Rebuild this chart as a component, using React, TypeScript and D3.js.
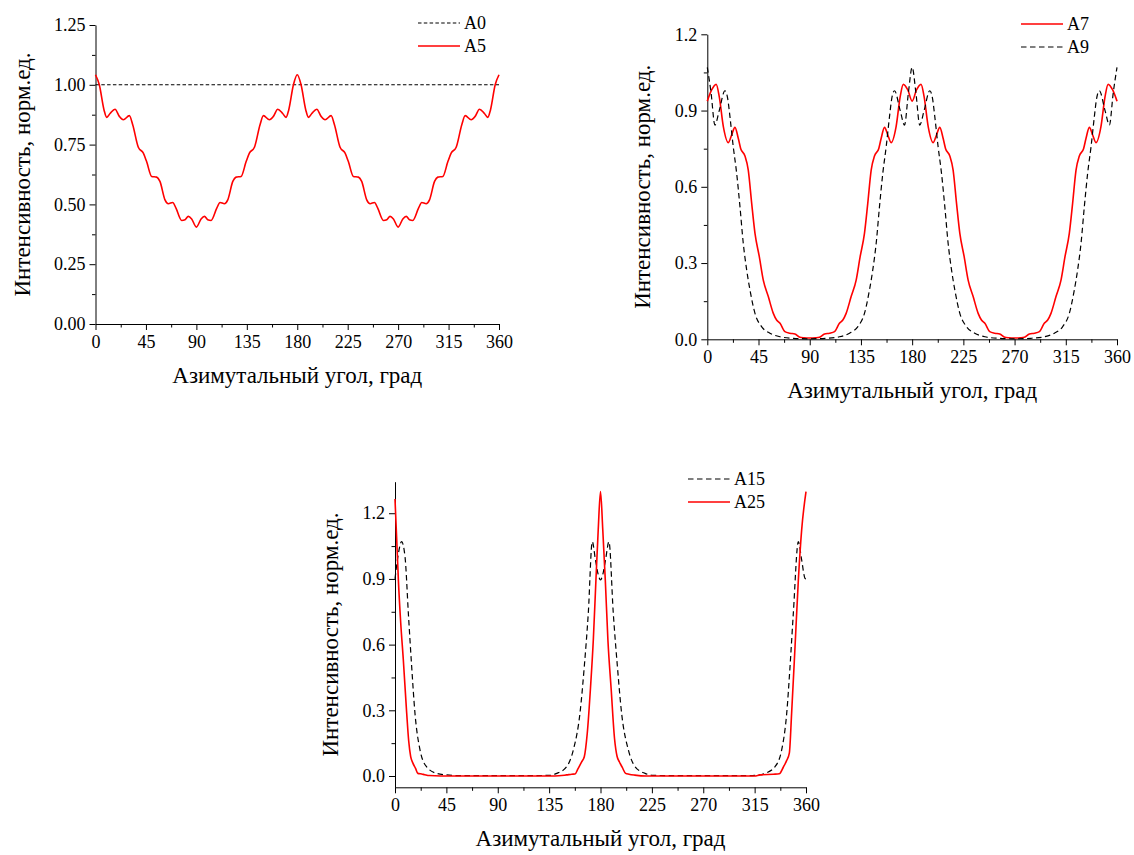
import React, { useEffect, useRef } from 'react';
import * as d3 from 'd3';

type Pt = [number, number];

const xTicks = [0, 45, 90, 135, 180, 225, 270, 315, 360];
const xTitle = 'Азимутальный угол, град';
const yTitle = 'Интенсивность, норм.ед.';

// panel 1
const a0: Pt[] = [[0, 1], [360, 1]];
const a5: Pt[] = [
  [0, 1.042], [3.4, 1.0], [7.6, 0.895], [10, 0.864], [13, 0.88], [17.4, 0.898], [21.3, 0.868], [24.8, 0.854],
  [30.2, 0.871], [33.2, 0.833], [38.2, 0.739], [42.7, 0.714], [45.6, 0.679], [50.1, 0.617], [54.6, 0.614],
  [57.5, 0.596], [62, 0.519], [65, 0.503], [68.9, 0.508], [71.8, 0.484], [76.9, 0.433], [79.9, 0.436],
  [82.8, 0.45], [85.8, 0.439], [90, 0.405], [94.2, 0.439], [97.2, 0.45], [100.1, 0.436], [103.1, 0.433],
  [108.2, 0.484], [111.1, 0.508], [115, 0.503], [118, 0.519], [122.5, 0.596], [125.4, 0.614], [129.9, 0.617],
  [134.4, 0.679], [137.3, 0.714], [141.8, 0.739], [146.8, 0.833], [149.8, 0.871], [155.2, 0.854],
  [158.7, 0.868], [162.6, 0.898], [167, 0.88], [170, 0.864], [172.4, 0.895], [176.6, 1.0], [180, 1.042],
  [183.4, 1.0], [187.6, 0.895], [190, 0.864], [193, 0.88], [197.4, 0.898], [201.3, 0.868], [204.8, 0.854],
  [210.2, 0.871], [213.2, 0.833], [218.2, 0.739], [222.7, 0.714], [225.6, 0.679], [230.1, 0.617],
  [234.6, 0.614], [237.5, 0.596], [242, 0.519], [245, 0.503], [248.9, 0.508], [251.8, 0.484], [256.9, 0.433],
  [259.9, 0.436], [262.8, 0.45], [265.8, 0.439], [270, 0.405], [274.2, 0.439], [277.2, 0.45], [280.1, 0.436],
  [283.1, 0.433], [288.2, 0.484], [291.1, 0.508], [295, 0.503], [298, 0.519], [302.5, 0.596], [305.4, 0.614],
  [309.9, 0.617], [314.4, 0.679], [317.3, 0.714], [321.8, 0.739], [326.8, 0.833], [329.8, 0.871],
  [335.2, 0.854], [338.7, 0.868], [342.6, 0.898], [347, 0.88], [350, 0.864], [352.4, 0.895], [356.6, 1.0],
  [360, 1.042],
];

// panel 2
const a7: Pt[] = [
  [0, 0.937], [3.8, 0.981], [7.8, 1.003], [10.5, 0.955], [14.1, 0.837], [18.5, 0.774], [21.4, 0.804],
  [24.3, 0.834], [27.2, 0.791], [29.3, 0.751], [33.1, 0.721], [36, 0.666], [39, 0.535], [41.9, 0.417],
  [45.7, 0.325], [49.2, 0.233], [53.6, 0.168], [58, 0.102], [60.9, 0.076], [63.9, 0.063], [68.2, 0.03],
  [72.6, 0.024], [77, 0.021], [81.4, 0.008], [85, 0.006], [90, 0.005], [95, 0.006], [98.6, 0.008],
  [103, 0.021], [107.4, 0.024], [111.8, 0.03], [116.1, 0.063], [119.1, 0.076], [122, 0.102], [126.4, 0.168],
  [130.8, 0.233], [134.3, 0.325], [138.1, 0.417], [141, 0.535], [144, 0.666], [146.9, 0.721], [150.7, 0.751],
  [152.8, 0.791], [155.7, 0.834], [158.6, 0.804], [161.5, 0.774], [165.9, 0.837], [169.5, 0.955],
  [172.2, 1.003], [176.2, 0.981], [180, 0.937], [183.8, 0.981], [187.8, 1.003], [190.5, 0.955], [194.1, 0.837],
  [198.5, 0.774], [201.4, 0.804], [204.3, 0.834], [207.2, 0.791], [209.3, 0.751], [213.1, 0.721], [216, 0.666],
  [219, 0.535], [221.9, 0.417], [225.7, 0.325], [229.2, 0.233], [233.6, 0.168], [238, 0.102], [240.9, 0.076],
  [243.9, 0.063], [248.2, 0.03], [252.6, 0.024], [257, 0.021], [261.4, 0.008], [265, 0.006], [270, 0.005],
  [275, 0.006], [278.6, 0.008], [283, 0.021], [287.4, 0.024], [291.8, 0.03], [296.1, 0.063], [299.1, 0.076],
  [302, 0.102], [306.4, 0.168], [310.8, 0.233], [314.3, 0.325], [318.1, 0.417], [321, 0.535], [324, 0.666],
  [326.9, 0.721], [330.7, 0.751], [332.8, 0.791], [335.7, 0.834], [338.6, 0.804], [341.5, 0.774],
  [345.9, 0.837], [349.5, 0.955], [352.2, 1.003], [356.2, 0.981], [360, 0.937],
];
const a9: Pt[] = [
  [0, 1.07], [3.3, 0.97], [6.7, 0.843], [10.5, 0.9], [15.5, 0.978], [18, 0.945], [19.9, 0.876], [22.8, 0.758],
  [25.8, 0.653], [28.7, 0.522], [31.6, 0.378], [34.6, 0.273], [37.5, 0.194], [41.9, 0.102], [47.7, 0.05],
  [55, 0.024], [63.9, 0.01], [75.6, 0.004], [90, 0.002], [104.4, 0.004], [116.1, 0.01], [125, 0.024],
  [132.3, 0.05], [138.1, 0.102], [142.5, 0.194], [145.4, 0.273], [148.4, 0.378], [151.3, 0.522],
  [154.2, 0.653], [157.2, 0.758], [160.1, 0.876], [162, 0.945], [164.5, 0.978], [169.5, 0.9], [173.3, 0.843],
  [176.7, 0.97], [180, 1.07], [183.3, 0.97], [186.7, 0.843], [190.5, 0.9], [195.5, 0.978], [198, 0.945],
  [199.9, 0.876], [202.8, 0.758], [205.8, 0.653], [208.7, 0.522], [211.6, 0.378], [214.6, 0.273],
  [217.5, 0.194], [221.9, 0.102], [227.7, 0.05], [235, 0.024], [243.9, 0.01], [255.6, 0.004], [270, 0.002],
  [284.4, 0.004], [296.1, 0.01], [305, 0.024], [312.3, 0.05], [318.1, 0.102], [322.5, 0.194], [325.4, 0.273],
  [328.4, 0.378], [331.3, 0.522], [334.2, 0.653], [337.2, 0.758], [340.1, 0.876], [342, 0.945],
  [344.5, 0.978], [349.5, 0.9], [353.3, 0.843], [356.7, 0.97], [360, 1.07],
];

// panel 3
const a15: Pt[] = [
  [0, 0.9], [2.5, 1.0], [5.8, 1.07], [8.8, 1.0], [11.7, 0.743], [14.6, 0.5], [17.5, 0.286], [21.9, 0.119],
  [27.7, 0.042], [36.5, 0.012], [45.2, 0.005], [55, 0.002], [120, 0.002], [136, 0.003], [141.7, 0.012],
  [150.4, 0.043], [156.2, 0.119], [162, 0.286], [165.8, 0.5], [169.3, 0.743], [172.8, 1.07], [175.5, 0.99],
  [178, 0.92], [180, 0.895], [182, 0.92], [184.5, 0.99], [187.4, 1.07], [191.2, 0.743], [194.8, 0.5],
  [198.5, 0.286], [204.4, 0.119], [210.2, 0.043], [219, 0.012], [226, 0.003], [240, 0.002], [310, 0.002],
  [315.3, 0.003], [324.1, 0.012], [332.8, 0.042], [338.7, 0.119], [343.1, 0.286], [346, 0.499],
  [348.9, 0.743], [353.3, 1.07], [356.2, 0.987], [359.1, 0.903], [360, 0.9],
];
const a25: Pt[] = [
  [0, 1.265], [1.5, 1.08], [3, 0.89], [5, 0.7], [7.3, 0.53], [10.2, 0.29], [12, 0.16], [13.7, 0.09],
  [15.6, 0.06], [18, 0.035], [20, 0.012], [23.4, 0.009], [26, 0.006], [30, 0.002], [40, 0], [140, 0],
  [150.4, 0.005], [154.8, 0.008], [157.7, 0.009], [160, 0.03], [163.5, 0.065], [165.8, 0.088], [168.4, 0.195],
  [171.3, 0.408], [173.7, 0.621], [176, 0.895], [178, 1.124], [180, 1.299], [182, 1.124], [184.2, 0.895],
  [186.5, 0.62], [189.3, 0.4], [192.3, 0.17], [194.5, 0.09], [196.5, 0.065], [199, 0.04], [202, 0.012],
  [205, 0.008], [210, 0.004], [220, 0], [315, 0], [319.7, 0.005], [331.4, 0.008], [336.6, 0.01],
  [340.1, 0.04], [343, 0.07], [345.4, 0.104], [347.4, 0.286], [350.4, 0.591], [353.3, 0.895],
  [356.2, 1.124], [360, 1.299],
];

const RED = '#ff0000';
const FONT = "'Liberation Serif', 'Times New Roman', serif";

const panels = [
  {
    left: 95.5, right: 499, top: 25, bottom: 324,
    yDomain: [0, 1.25], yMajor: [0, 0.25, 0.5, 0.75, 1, 1.25], yStep: 0.125, yFmt: '.2f',
    yTitleX: 30, legX: 418, legY: 23,
    series: [
      { name: 'A0', data: a0, color: '#000', dash: '3.5,2.3', w: 1.1 },
      { name: 'A5', data: a5, color: RED, dash: null, w: 1.6 },
    ],
  },
  {
    left: 707.3, right: 1117, top: 34.3, bottom: 339.3,
    yDomain: [0, 1.2], yMajor: [0, 0.3, 0.6, 0.9, 1.2], yStep: 0.15, yFmt: '.1f',
    yTitleX: 650, legX: 1021, legY: 24,
    series: [
      { name: 'A7', data: a7, color: RED, dash: null, w: 1.6 },
      { name: 'A9', data: a9, color: '#000', dash: '5.5,3.5', w: 1.2 },
    ],
  },
  {
    left: 395, right: 806, top: 481.7, bottom: 787.3,
    yDomain: [-0.0516, 1.344], yMajor: [0, 0.3, 0.6, 0.9, 1.2], yStep: 0.15, yFmt: '.1f',
    yTitleX: 338, legX: 688, legY: 479,
    series: [
      { name: 'A15', data: a15, color: '#000', dash: '5.5,3.5', w: 1.2 },
      { name: 'A25', data: a25, color: RED, dash: null, w: 1.6 },
    ],
  },
];

const App = () => {
  const ref = useRef<SVGSVGElement>(null);

  useEffect(() => {
    const svg = d3.select(ref.current);
    svg.selectAll('*').remove();

    panels.forEach((p) => {
      const x = d3.scaleLinear().domain([0, 360]).range([p.left, p.right]);
      const y = d3.scaleLinear().domain(p.yDomain).range([p.bottom, p.top]);
      const g = svg.append('g');

      const xMinor = d3.range(22.5, 360, 45);
      const yMinor = d3.range(0, p.yDomain[1] + 1e-9, p.yStep).filter((v) => !p.yMajor.some((m) => Math.abs(m - v) < 1e-6));

      // minor ticks
      g.append('g')
        .attr('transform', `translate(0,${p.bottom})`)
        .call(d3.axisBottom(x).tickValues(xMinor).tickSize(3.5).tickSizeOuter(0).tickFormat(() => ''))
        .call((a) => a.select('.domain').remove());
      g.append('g')
        .attr('transform', `translate(${p.left},0)`)
        .call(d3.axisLeft(y).tickValues(yMinor).tickSize(3.5).tickSizeOuter(0).tickFormat(() => ''))
        .call((a) => a.select('.domain').remove());

      // major axes
      const xa = g.append('g')
        .attr('transform', `translate(0,${p.bottom})`)
        .call(d3.axisBottom(x).tickValues(xTicks).tickSize(6).tickSizeOuter(0).tickPadding(5).tickFormat(d3.format('d')));
      const ya = g.append('g')
        .attr('transform', `translate(${p.left},0)`)
        .call(d3.axisLeft(y).tickValues(p.yMajor).tickSize(6).tickSizeOuter(0).tickPadding(4).tickFormat(d3.format(p.yFmt)));
      [xa, ya].forEach((a) => {
        a.attr('font-family', null).attr('font-size', null);
        a.selectAll('text').attr('fill', '#000').style('font-family', FONT).style('font-size', '18px');
        a.selectAll('line, path').attr('stroke', '#000').attr('stroke-width', 1);
      });

      // titles
      g.append('text')
        .attr('x', (p.left + p.right) / 2)
        .attr('y', p.bottom + 59)
        .attr('text-anchor', 'middle')
        .style('font-family', FONT)
        .style('font-size', '23px')
        .text(xTitle);
      g.append('text')
        .attr('transform', `translate(${p.yTitleX},${(p.top + p.bottom) / 2}) rotate(-90)`)
        .attr('text-anchor', 'middle')
        .style('font-family', FONT)
        .style('font-size', '23px')
        .text(yTitle);

      // curves
      const line = d3.line<Pt>()
        .x((d) => x(d[0]))
        .y((d) => y(d[1]))
        .curve(d3.curveMonotoneX);
      p.series.forEach((s) => {
        g.append('path')
          .datum(s.data)
          .attr('d', line)
          .attr('fill', 'none')
          .attr('stroke', s.color)
          .attr('stroke-width', s.w)
          .attr('stroke-dasharray', s.dash);
      });

      // legend
      p.series.forEach((s, i) => {
        const ly = p.legY + i * 23;
        g.append('line')
          .attr('x1', p.legX).attr('x2', p.legX + 42)
          .attr('y1', ly).attr('y2', ly)
          .attr('stroke', s.color)
          .attr('stroke-width', s.w)
          .attr('stroke-dasharray', s.dash);
        g.append('text')
          .attr('x', p.legX + 46)
          .attr('y', ly)
          .attr('dy', '0.35em')
          .style('font-family', FONT)
          .style('font-size', '18px')
          .text(s.name);
      });
    });
  }, []);

  return (
    <svg
      ref={ref}
      width={1134}
      height={855}
      style={{ position: 'absolute', left: 0, top: 0, background: '#fff' }}
    />
  );
};

export default App;
